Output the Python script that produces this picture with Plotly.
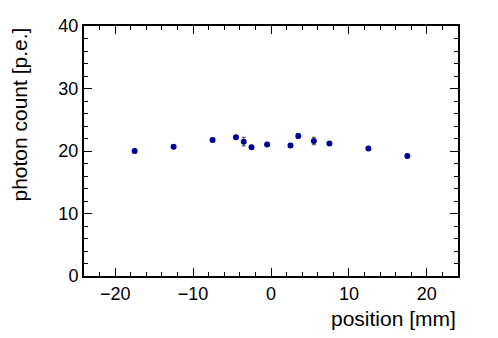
import plotly.graph_objects as go

# position [mm] and measured photon counts
position = [-17.5, -12.5, -7.5, -4.5, -3.5, -2.5, -0.5, 2.5, 3.5, 5.5, 7.5, 12.5, 17.5]
photons = [20.0, 20.7, 21.75, 22.2, 21.5, 20.6, 21.05, 20.9, 22.4, 21.6, 21.2, 20.4, 19.2]
errors = [0.3, 0.3, 0.3, 0.3, 0.7, 0.3, 0.3, 0.3, 0.3, 0.6, 0.3, 0.3, 0.3]

FONT = "Liberation Sans, Arial, Helvetica, sans-serif"

fig = go.Figure()
fig.add_trace(go.Scatter(
    x=position, y=photons, mode="markers",
    marker=dict(color="#000099", size=6),
    error_y=dict(type="data", array=errors, color="#444444", thickness=1, width=2),
    showlegend=False,
))

axis_common = dict(
    showline=True, linecolor="black", linewidth=2, mirror="allticks",
    ticks="inside", ticklen=8, tickcolor="black", tickwidth=1,
    showgrid=False, zeroline=False,
    tickfont=dict(family=FONT, size=18, color="black"),
    minor=dict(ticks="inside", ticklen=4, tickcolor="black", dtick=2),
)

fig.update_layout(
    width=498, height=338,
    margin=dict(l=84, r=40, t=26, b=62),
    plot_bgcolor="white", paper_bgcolor="white",
    xaxis=dict(range=[-24, 24], dtick=10, **axis_common),
    yaxis=dict(range=[0, 40], dtick=10, **axis_common),
    annotations=[
        dict(text="position [mm]", xref="paper", yref="paper", x=1, y=-0.115,
             xanchor="right", yanchor="top", showarrow=False,
             font=dict(family=FONT, size=21, color="black")),
        dict(text="photon count [p.e.]", xref="paper", yref="paper", x=-0.175, y=1,
             xanchor="center", yanchor="top", textangle=-90, showarrow=False,
             font=dict(family=FONT, size=21, color="black")),
    ],
)

fig.write_html("out.html", config={"displayModeBar": False},
               post_script="document.body.style.margin='0';")
